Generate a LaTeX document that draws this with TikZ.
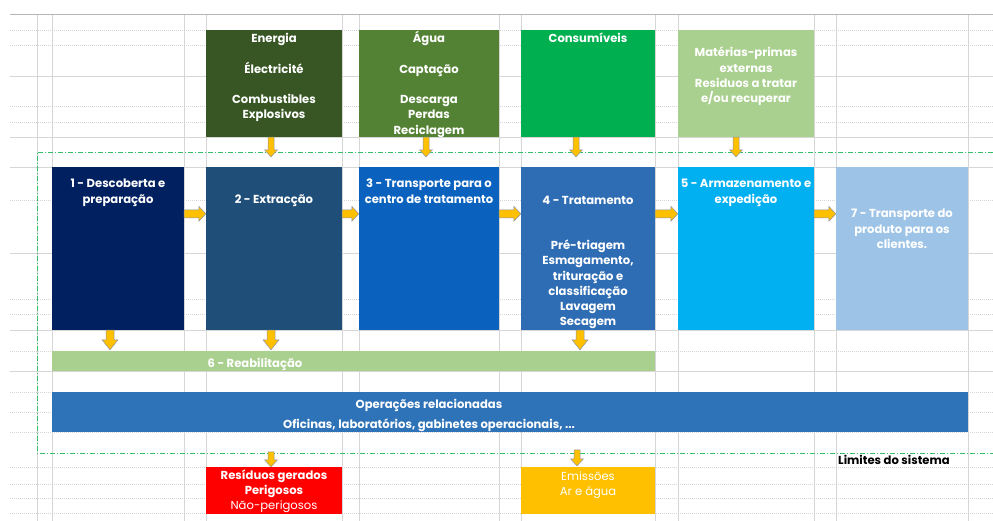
\documentclass[tikz,border=0pt]{standalone}
\usepackage{fontspec}
\setmainfont{Poppins}
\usetikzlibrary{calc}
\definecolor{cEn}{HTML}{375623}
\definecolor{cAg}{HTML}{548235}
\definecolor{cCo}{HTML}{00B050}
\definecolor{cMa}{HTML}{A9D08E}
\definecolor{cB1}{HTML}{002060}
\definecolor{cB2}{HTML}{1F4E79}
\definecolor{cB3}{HTML}{0A62BE}
\definecolor{cB4}{HTML}{2E6DB4}
\definecolor{cB5}{HTML}{00B0F0}
\definecolor{cB7}{HTML}{9DC3E6}
\definecolor{cOps}{HTML}{2E72B8}
\definecolor{cRed}{HTML}{FF0000}
\definecolor{cEmi}{HTML}{FFC000}
\definecolor{cArr}{HTML}{FFC000}
\definecolor{cArrLine}{HTML}{8A93A6}
\definecolor{cBnd}{HTML}{33C06A}
\definecolor{cGrid}{HTML}{D6D6D6}
\newcommand\varr[5]{\filldraw[barrow] let \p1=#1,\p2=#2 in
  (\x1-#3pt,\y1) -- (\x1-#3pt,\y2+#5pt) -- (\x1-#4pt,\y2+#5pt) -- (\x1,\y2) --
  (\x1+#4pt,\y2+#5pt) -- (\x1+#3pt,\y2+#5pt) -- (\x1+#3pt,\y1) -- cycle;}
\newcommand\harr[5]{\filldraw[barrow] let \p1=#1,\p2=#2 in
  (\x1,\y1+#3pt) -- (\x2-#5pt,\y1+#3pt) -- (\x2-#5pt,\y1+#4pt) -- (\x2,\y1) --
  (\x2-#5pt,\y1-#4pt) -- (\x2-#5pt,\y1-#3pt) -- (\x1,\y1-#3pt) -- cycle;}
\begin{document}
\begin{tikzpicture}[x=1pt,y=-1pt,
  box/.style={draw=none, inner sep=0pt},
  txt/.style={text=white, align=center, inner sep=0pt, anchor=base,
    font=\fontsize{11.6}{15.2}\selectfont\bfseries},
  barrow/.style={fill=cArr, draw=cArrLine, line width=0.5pt},
  bnd/.style={draw=cBnd, line width=0.8pt, dash pattern=on 5pt off 2pt on 1pt off 2pt},
  gsolid/.style={draw=cGrid, line width=0.7pt},
  gdot/.style={draw=cGrid, line width=0.7pt, dash pattern=on 1pt off 1pt}]
\useasboundingbox (0,0) rectangle (993,521);
\fill[white] (0,0) rectangle (993,521);
% grid
\draw[draw=cGrid!85!black, line width=1pt] (10,15) -- (993,15);
\foreach \yy in {76,137,167,253,330,371}{\draw[gsolid] (10,\yy) -- (993,\yy);}
\foreach \yy in {30,45,106,122,200,299,314,351,392,412,432,467,484,498,513}{\draw[gdot] (10,\yy) -- (993,\yy);}
\foreach \xx in {37,52,184,206,342,359,499,521,655,678,814,836,968}{\draw[gsolid] (\xx,15) -- (\xx,521);}
% system boundary
\coordinate (bTR) at (993,152);
\coordinate (bTL) at (37,152);
\coordinate (bBL) at (37,453);
\coordinate (bBR) at (993,453);
\draw[bnd] (bTR) -- (bTL) -- (bBL) -- (bBR);
% top row
\node[box, fill=cEn, minimum width=136pt, minimum height=107pt] (en) at (274,83.5) {};
\node[box, fill=cAg, minimum width=140pt, minimum height=107pt] (ag) at (429,83.5) {};
\node[box, fill=cCo, minimum width=134pt, minimum height=107pt] (co) at (588,83.5) {};
\node[box, fill=cMa, minimum width=136pt, minimum height=107pt] (ma) at (746,83.5) {};
% middle row
\node[box, fill=cB1, minimum width=132pt, minimum height=163pt] (b1) at (118,248.5) {};
\node[box, fill=cB2, minimum width=136pt, minimum height=163pt] (b2) at (274,248.5) {};
\node[box, fill=cB3, minimum width=140pt, minimum height=163pt] (b3) at (429,248.5) {};
\node[box, fill=cB4, minimum width=134pt, minimum height=163pt] (b4) at (588,248.5) {};
\node[box, fill=cB5, minimum width=136pt, minimum height=163pt] (b5) at (746,248.5) {};
\node[box, fill=cB7, minimum width=132pt, minimum height=163pt] (b7) at (902,248.5) {};
% bars
\node[box, fill=cMa, minimum width=603pt, minimum height=20pt] (reab) at (353.5,361) {};
\node[box, fill=cOps, minimum width=916pt, minimum height=40pt] (ops) at (510,412) {};
% outputs
\node[box, fill=cRed, minimum width=136pt, minimum height=47pt] (res) at (274,490.5) {};
\node[box, fill=cEmi, minimum width=134pt, minimum height=47pt] (emi) at (588,490.5) {};
% texts (anchor = baseline of the last line)
\node[txt] (enT) at (274,119) {Energia\\[15.2pt]Électricité\\[15.2pt]Combustibles\\Explosivos};
\node[txt] (agT) at (429,134.2) {Água\\[15.2pt]Captação\\[15.2pt]Descarga\\Perdas\\Reciclagem};
\node[txt] (coT) at (588,43) {Consumíveis};
\node[txt] (maT) at (746,102.6) {Matérias-primas\\externas\\Residuos a tratar\\e/ou recuperar};
\node[txt] (b1T) at (118,203.2) {1 - Descoberta e\\preparação};
\node[txt] (b2T) at (274,204) {2 - Extracção};
\node[txt] (b3T) at (429,203.2) {3 - Transporte para o\\centro de tratamento};
\node[txt] (b4T) at (588,325.6) {4 - Tratamento\\[30.4pt]Pré-triagem\\Esmagamento,\\trituração e\\classificação\\Lavagem\\Secagem};
\node[txt] (b5T) at (746,203.2) {5 - Armazenamento e\\expedição};
\node[txt] (b7T) at (902,248.4) {7 - Transporte do\\produto para os\\clientes.};
\node[txt] (reabT) at (255,367) {6 - Reabilitação};
\node[txt, font=\fontsize{11.6}{20}\selectfont\bfseries] (opsT) at (429,428) {Operações relacionadas\\Oficinas, laboratórios, gabinetes operacionais, ...};
\node[txt] (resT) at (274,509.4) {Resíduos gerados\\Perigosos\\\mdseries Não-perigosos};
\node[txt, font=\fontsize{11.6}{15.2}\selectfont] (emiT) at (588,495.2) {Emissões\\Ar e água};
\node[txt, text=black] (limT) at (894,464) {Limites do sistema};
% arrows: inputs
\varr{($(en.south)+(-3,0)$)}{($(b2.north)+(0,-10)$)}{3}{6.5}{7}
\varr{($(ag.south)+(-3,0)$)}{($(b3.north)+(0,-10)$)}{3}{6.5}{7}
\varr{($(co.south)+(-12,0)$)}{($(b4.north)+(0,-10)$)}{3}{6.5}{7}
\varr{($(ma.south)+(-10,0)$)}{($(b5.north)+(0,-10)$)}{3}{6.5}{7}
% arrows: process chain
\harr{($(b1.north east)+(0,47)$)}{(b2.west)}{4}{7.5}{7}
\harr{($(b2.north east)+(0,47)$)}{(b3.west)}{4}{7.5}{7}
\harr{($(b3.north east)+(0,47)$)}{(b4.west)}{4}{7.5}{7}
\harr{($(b4.north east)+(0,47)$)}{(b5.west)}{4}{7.5}{7}
\harr{($(b5.north east)+(0,47)$)}{(b7.west)}{4}{7.5}{7}
% arrows: to rehabilitation
\varr{($(b1.south)+(-8,0)$)}{($(reab.north)+(0,-1)$)}{4}{8}{10}
\varr{($(b2.south)+(-3,0)$)}{($(reab.north)+(0,-1)$)}{4}{8}{10}
\varr{($(b4.south)+(-8,0)$)}{($(reab.north)+(0,-1)$)}{4}{8}{10}
% arrows: outputs
\varr{($(res.north)+(-3,-15)$)}{(res.north)}{3}{6.5}{7}
\varr{($(emi.north)+(-11,-17)$)}{($(emi.north)+(0,-1)$)}{3}{6.5}{7}
\end{tikzpicture}
\end{document}
